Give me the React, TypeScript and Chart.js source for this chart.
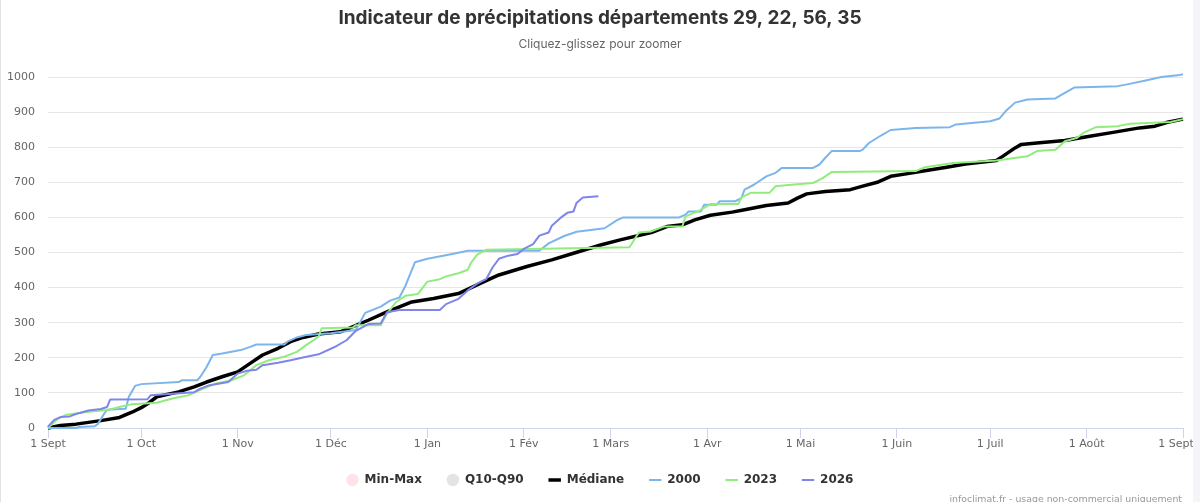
import React, { useEffect, useRef } from 'react';
import { Chart, registerables } from 'chart.js';

Chart.register(...registerables);

// Day offsets from 1 September and their month labels
const monthTickDays = [0, 30, 61, 91, 122, 153, 181, 212, 242, 273, 303, 334, 365];
const monthTickLabels = ['1 Sept', '1 Oct', '1 Nov', '1 Déc', '1 Jan', '1 Fév', '1 Mars', '1 Avr', '1 Mai', '1 Juin', '1 Juil', '1 Août', '1 Sept'];

// Médiane (cumulative mm)
const medianDays = [0, 4, 9, 17, 23, 27, 30, 32, 35, 42, 47, 51, 56, 61, 65, 69, 74, 78, 82, 87, 94, 103, 109, 117, 124, 132, 139, 145, 154, 162, 169, 178, 184, 194, 199, 204, 208, 213, 220, 224, 231, 238, 241, 244, 250, 258, 262, 267, 271, 276, 280, 289, 295, 305, 307, 311, 313, 318, 327, 335, 343, 351, 356, 360, 365];
const medianValues = [0, 7, 11, 21, 30, 45, 58, 69, 89, 103, 117, 131, 146, 160, 184, 208, 227, 246, 258, 268, 274, 307, 331, 359, 369, 383, 412, 436, 460, 479, 498, 522, 536, 557, 574, 579, 593, 606, 615, 622, 634, 641, 655, 667, 674, 679, 689, 701, 717, 724, 730, 743, 752, 762, 774, 798, 808, 812, 819, 831, 843, 855, 860, 871, 880];

// 2000
const days2000 = [0, 9, 10, 15, 16, 18, 19, 25, 26, 28, 30, 42, 43, 48, 49, 51, 53, 56, 59, 62, 65, 67, 76, 77, 80, 83, 91, 99, 102, 107, 110, 113, 115, 118, 122, 125, 130, 135, 158, 161, 166, 170, 179, 183, 185, 203, 205, 206, 210, 211, 215, 216, 221, 223, 224, 227, 231, 234, 236, 246, 248, 250, 252, 261, 262, 264, 268, 271, 279, 290, 292, 303, 306, 308, 311, 315, 324, 326, 330, 344, 347, 353, 358, 364, 365];
const values2000 = [0, 0, 3, 5, 11, 40, 52, 55, 89, 120, 125, 131, 136, 136, 146, 174, 208, 212, 217, 222, 231, 238, 238, 246, 258, 265, 270, 279, 328, 346, 363, 372, 406, 472, 482, 487, 496, 505, 505, 526, 547, 559, 569, 592, 600, 600, 608, 617, 617, 636, 636, 646, 646, 655, 679, 693, 717, 727, 741, 741, 750, 770, 789, 789, 793, 812, 834, 849, 855, 857, 865, 874, 882, 903, 927, 936, 939, 950, 970, 974, 979, 990, 1000, 1006, 1008];

// 2023
const days2023 = [0, 3, 6, 13, 19, 23, 27, 35, 40, 45, 50, 54, 59, 63, 67, 71, 76, 80, 83, 87, 88, 98, 99, 107, 109, 112, 115, 119, 122, 126, 128, 132, 135, 136, 138, 141, 187, 190, 194, 198, 204, 205, 209, 212, 213, 222, 223, 226, 232, 234, 239, 246, 249, 252, 279, 282, 291, 305, 315, 318, 324, 327, 331, 333, 337, 344, 348, 361, 365];
const values2023 = [0, 25, 38, 46, 51, 60, 68, 72, 84, 93, 112, 127, 136, 150, 179, 193, 203, 217, 236, 260, 284, 286, 293, 293, 326, 359, 377, 382, 417, 424, 432, 441, 451, 470, 494, 508, 515, 557, 560, 574, 574, 603, 617, 632, 638, 638, 657, 670, 670, 689, 693, 698, 711, 729, 732, 743, 755, 762, 774, 789, 793, 817, 827, 841, 857, 860, 867, 872, 880];

// 2026 (in progress)
const days2026 = [0, 2, 4, 7, 9, 13, 17, 19, 20, 32, 33, 47, 49, 52, 58, 61, 64, 67, 69, 74, 78, 82, 87, 92, 96, 99, 103, 107, 109, 113, 126, 128, 132, 135, 138, 141, 143, 145, 148, 151, 153, 156, 158, 161, 162, 165, 167, 169, 170, 172, 177];
const values2026 = [4, 23, 31, 33, 40, 50, 54, 60, 81, 82, 93, 102, 112, 122, 131, 155, 163, 166, 179, 186, 193, 201, 210, 230, 250, 277, 296, 298, 330, 336, 336, 353, 368, 392, 411, 425, 458, 482, 491, 496, 510, 524, 548, 557, 576, 600, 613, 617, 642, 657, 660];

const legendNames = ['Min-Max', 'Q10-Q90', 'Médiane', '2000', '2023', '2026'];

const toPoints = (days: number[], values: number[]) => days.map((d, i) => ({ x: d, y: values[i] }));

export default function App() {
  const canvasRef = useRef<HTMLCanvasElement>(null);

  useEffect(() => {
    if (!canvasRef.current) return;
    Chart.defaults.font.family = 'DejaVu Sans';
    const lineBase = { pointRadius: 0, pointHoverRadius: 0, tension: 0, fill: false, clip: false as any, borderJoinStyle: 'round' as const };
    const chart = new Chart(canvasRef.current, {
      type: 'line',
      data: {
        datasets: [
          { label: legendNames[0], data: [], borderColor: '#ffe3e7', backgroundColor: '#ffe3e7', order: 5, ...lineBase },
          { label: legendNames[1], data: [], borderColor: '#e4e4e4', backgroundColor: '#e4e4e4', order: 4, ...lineBase },
          { label: legendNames[2], data: toPoints(medianDays, medianValues), borderColor: '#000000', borderWidth: 3.5, order: 3, ...lineBase },
          { label: legendNames[3], data: toPoints(days2000, values2000), borderColor: '#7cb5ec', borderWidth: 2, order: 2, ...lineBase },
          { label: legendNames[4], data: toPoints(days2023, values2023), borderColor: '#90ed7d', borderWidth: 2, order: 1, ...lineBase },
          { label: legendNames[5], data: toPoints(days2026, values2026), borderColor: '#8085e9', borderWidth: 2, order: 0, ...lineBase },
        ],
      },
      options: {
        animation: false,
        responsive: true,
        maintainAspectRatio: false,
        events: [],
        layout: { padding: { left: 0, right: 0, top: 0, bottom: 6 } },
        plugins: {
          title: {
            display: true,
            text: 'Indicateur de précipitations départements 29, 22, 56, 35',
            color: '#333333',
            font: { family: 'Inter', size: 19, weight: 'bold' },
            padding: { top: 6.5, bottom: 8 },
          },
          subtitle: {
            display: true,
            text: 'Cliquez-glissez pour zoomer',
            color: '#666666',
            font: { family: 'Inter', size: 12, weight: 'normal' },
            padding: { top: 0, bottom: 25.3 },
          },
          legend: {
            position: 'bottom',
            labels: {
              usePointStyle: true,
              boxWidth: 12,
              boxHeight: 8.8,
              padding: 25,
              color: '#333333',
              font: { family: 'DejaVu Sans', size: 12, weight: 'bold' },
              generateLabels: (c: any) =>
                c.data.datasets.map((ds: any, i: number) => ({
                  text: ds.label,
                  fillStyle: ds.backgroundColor || ds.borderColor,
                  strokeStyle: ds.borderColor,
                  lineWidth: i < 2 ? 0 : ds.borderWidth,
                  pointStyle: i < 2 ? 'circle' : 'line',
                  hidden: false,
                  datasetIndex: i,
                  fontColor: '#333333',
                })),
            },
          },
          tooltip: { enabled: false },
        },
        scales: {
          x: {
            type: 'linear',
            min: 0,
            max: 365,
            afterBuildTicks: (scale: any) => {
              scale.ticks = monthTickDays.map((v) => ({ value: v }));
            },
            afterFit: (scale: any) => {
              scale.height = 21;
              scale.paddingLeft = 0;
              scale.paddingRight = 17;
            },
            ticks: {
              autoSkip: false,
              maxRotation: 0,
              minRotation: 0,
              padding: 0,
              color: '#666666',
              font: { family: 'DejaVu Sans', size: 11 },
              callback: (_v: any, index: number) =>
                index === monthTickLabels.length - 1 ? monthTickLabels[index] + '    ' : monthTickLabels[index],
            },
            grid: { drawOnChartArea: false, drawTicks: true, tickLength: 10, tickColor: '#ccd6eb', tickWidth: 1 },
            border: { display: true, color: '#ccd6eb', width: 1 },
          },
          y: {
            min: 0,
            max: 1000,
            afterFit: (scale: any) => {
              scale.width = 48;
            },
            ticks: {
              stepSize: 100,
              padding: 13,
              color: '#666666',
              font: { family: 'DejaVu Sans', size: 11 },
              callback: (v: any) => String(v),
            },
            grid: {
              drawTicks: false,
              color: (ctx: any) => (ctx.tick && ctx.tick.value === 0 ? 'rgba(0,0,0,0)' : '#e6e6e6'),
              lineWidth: 1,
            },
            border: { display: false },
          },
        },
      },
    });
    return () => chart.destroy();
  }, []);

  return (
    <div style={{ position: 'absolute', left: 0, top: 0, width: 1200, height: 502, overflow: 'hidden', background: '#ffffff' }}>
      <div style={{ position: 'absolute', left: 0, top: 0, width: 1200, height: 502 }}>
        <canvas ref={canvasRef} />
      </div>
      <div style={{ position: 'absolute', left: 0, top: 0, width: 1, height: 502, background: '#e3e3e3' }} />
      <div style={{ position: 'absolute', left: 1193, top: 0, width: 7, height: 502, background: '#f3f5f9' }} />
      <span
        style={{
          position: 'absolute',
          right: 18,
          top: 494,
          fontFamily: 'DejaVu Sans',
          fontSize: '9.4px',
          lineHeight: '10px',
          color: '#999999',
          whiteSpace: 'nowrap',
        }}
      >
        infoclimat.fr - usage non-commercial uniquement
      </span>
    </div>
  );
}
